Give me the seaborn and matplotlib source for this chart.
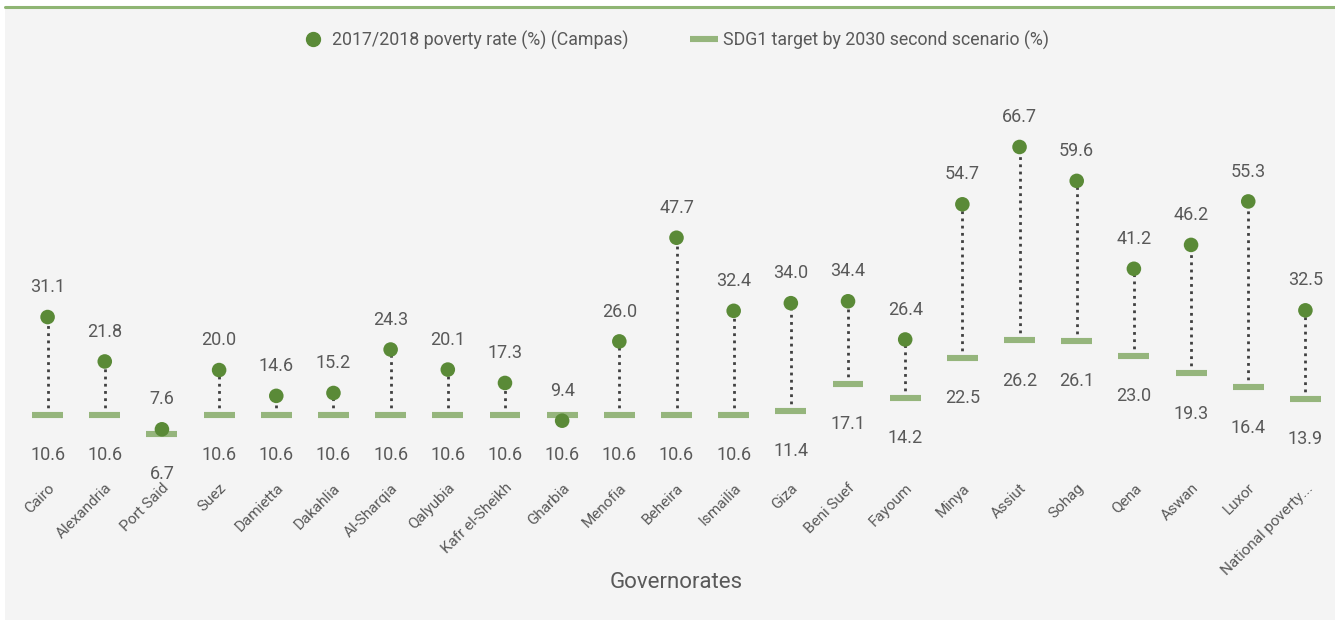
import matplotlib
matplotlib.use("Agg")
import matplotlib.pyplot as plt
import seaborn as sns
import pandas as pd
from matplotlib.patches import Rectangle
from matplotlib.lines import Line2D
from matplotlib import font_manager

governorates = ["Cairo", "Alexandria", "Port Said", "Suez", "Damietta", "Dakahlia", "Al-Sharqia",
                "Qalyubia", "Kafr el-Sheikh", "Gharbia", "Menofia", "Beheira", "Ismailia", "Giza",
                "Beni Suef", "Fayoum", "Minya", "Assiut", "Sohag", "Qena", "Aswan", "Luxor",
                "National poverty..."]
poverty_rate = [31.1, 21.8, 7.6, 20.0, 14.6, 15.2, 24.3, 20.1, 17.3, 9.4, 26.0, 47.7, 32.4, 34.0,
                34.4, 26.4, 54.7, 66.7, 59.6, 41.2, 46.2, 55.3, 32.5]
sdg_target = [10.6, 10.6, 6.7, 10.6, 10.6, 10.6, 10.6, 10.6, 10.6, 10.6, 10.6, 10.6, 10.6, 11.4,
              17.1, 14.2, 22.5, 26.2, 26.1, 23.0, 19.3, 16.4, 13.9]

sns.set_theme(style="white")
names = {f.name for f in font_manager.fontManager.ttflist}
fam = "Liberation Sans Narrow" if "Liberation Sans Narrow" in names else "Roboto"
plt.rcParams['font.family'] = [fam, 'DejaVu Sans']

TXT = "#595959"
DOT = "#5a8a37"
BAR = "#95b57c"

df = pd.DataFrame({"gov": governorates, "rate": poverty_rate, "target": sdg_target})
df["x"] = range(len(df))

W, H = 1335, 623
fig = plt.figure(figsize=(W / 100, H / 100), dpi=100, facecolor="white")
fig.patches.append(Rectangle((5 / W, 3 / H), 1330 / W, (H - 11) / H, transform=fig.transFigure,
                             facecolor="#f4f4f4", edgecolor="none", zorder=-5))
fig.lines.append(Line2D([5 / W, 1], [1 - 7 / H, 1 - 7 / H], transform=fig.transFigure,
                        color="#8fb573", linewidth=2.2, zorder=-4))

zero_px = 465.6
top_px = 80
ppu = 4.777
ax = fig.add_axes([19 / W, (H - zero_px) / H, 1315 / W, (zero_px - top_px) / H])
ax.set_facecolor("none")
ax.patch.set_visible(False)
ax.set_xlim(-0.5, len(df) - 0.5)
ax.set_ylim(0, (zero_px - top_px) / ppu)

ax.vlines(df["x"], df["target"], df["rate"], colors="#404040", linestyles=(0, (1, 1.6)),
          linewidth=2.0, zorder=1)
ax.hlines(df["target"], df["x"] - 0.27, df["x"] + 0.27, colors=BAR, linewidth=4.4, zorder=2)
sns.scatterplot(data=df, x="x", y="rate", ax=ax, color=DOT, s=110, edgecolor="none",
                zorder=3, legend=False)

for xi, r, t in zip(df["x"], df["rate"], df["target"]):
    ax.annotate(f"{r:.1f}", (xi, r), xytext=(0, 21.5), textcoords="offset points",
                ha="center", va="center", fontsize=13, color=TXT, annotation_clip=False)
    ax.annotate(f"{t:.1f}", (xi, t), xytext=(0, -29), textcoords="offset points",
                ha="center", va="center", fontsize=13, color=TXT, annotation_clip=False)

for s in ax.spines.values():
    s.set_visible(False)
ax.set_yticks([])
ax.set_xticks(df["x"])
ax.set_xticklabels(governorates, rotation=45, ha="right", rotation_mode="anchor",
                   fontsize=11, color=TXT)
ax.tick_params(axis="x", length=0, pad=11)
ax.set_xlabel("Governorates", fontsize=16, color=TXT, labelpad=-4)
ax.set_ylabel("")

handles = [Line2D([], [], marker="o", linestyle="none", color=DOT, markersize=10),
           Line2D([], [], marker="_", linestyle="none", color=BAR, markersize=20,
                  markeredgewidth=4.4)]
fig.legend(handles, ["2017/2018 poverty rate (%) (Campas)", "SDG1 target by 2030 second scenario (%)"],
           loc="center", bbox_to_anchor=(0.505, 1 - 40 / H), ncol=2, frameon=False,
           fontsize=12.8, labelcolor=TXT, handletextpad=0.3, columnspacing=3.5, handlelength=1.5)

fig.savefig("out.png", dpi=100, facecolor="white")
